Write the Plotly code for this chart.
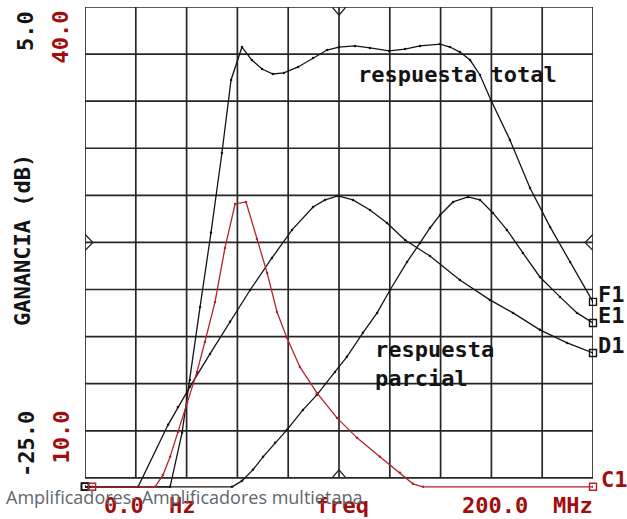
import plotly.graph_objects as go

# ---------------- data (frequency in MHz, gain in dB) ----------------
freq_F1 = [0, 33.5, 38.2, 41.3, 45.3, 49.6, 53.9, 57.5, 61.8, 65.7, 69.7, 74.0, 78.3, 83.9, 89.8,
           95.3, 100.0, 106.3, 112.2, 119.7, 126.0, 131.9, 139.8, 143.7, 147.6, 151.6, 155.5,
           159.8, 167.3, 175.2, 183.1, 191.0, 200.0]
gain_F1 = [-25.57, -25.57, -22.13, -18.76, -14.11, -9.39, -4.30, 0.35, 2.45, 1.62, 1.05, 0.73, 0.80,
           1.18, 1.75, 2.26, 2.45, 2.52, 2.39, 2.20, 2.32, 2.52, 2.64, 2.45, 2.13, 1.62, 0.67,
           -0.92, -3.47, -6.53, -9.01, -11.24, -13.79]

freq_E1 = [0, 57.9, 61.8, 66.1, 70.1, 74.8, 79.5, 85.8, 91.3, 98.4, 103.1, 109.4, 115.0, 120.1,
           126.8, 131.9, 135.8, 139.8, 144.9, 150.8, 155.5, 160.6, 166.1, 172.4, 179.1, 187.0,
           193.7, 200.0]
gain_E1 = [-25.57, -25.57, -25.19, -24.49, -23.66, -22.77, -21.94, -20.67, -19.71, -18.25, -17.29,
           -15.76, -14.49, -13.03, -11.24, -10.03, -9.08, -8.25, -7.42, -7.10, -7.29, -8.12,
           -9.20, -10.67, -12.20, -13.47, -14.49, -15.13]

freq_D1 = [0, 20.9, 32.7, 36.6, 41.3, 49.2, 57.1, 65.0, 73.6, 81.5, 89.8, 94.5, 99.6, 105.5,
           112.2, 118.9, 126.0, 135.8, 147.6, 159.4, 168.5, 179.1, 189.8, 200.0]
gain_D1 = [-25.57, -25.57, -21.62, -20.48, -19.20, -17.10, -15.06, -13.03, -10.99, -9.20, -7.74,
           -7.29, -7.04, -7.29, -7.93, -8.76, -9.84, -10.86, -12.39, -13.66, -14.49, -15.57,
           -16.40, -17.04]

# red trace uses the right-hand (red) scale
freq_C1 = [2.8, 27.6, 30.7, 33.5, 36.6, 40.2, 44.1, 47.2, 51.2, 55.1, 59.1, 63.4, 67.7, 71.7,
           75.6, 79.5, 84.6, 91.3, 99.2, 107.1, 116.1, 124.0, 129.1, 133.1, 200.0]
gain_C1 = [9.43, 9.43, 10.19, 11.34, 12.93, 14.78, 16.75, 18.66, 21.21, 24.65, 27.45, 27.58,
           25.22, 23.06, 20.57, 18.92, 17.07, 15.41, 13.82, 12.55, 11.34, 10.32, 9.62, 9.43, 9.43]

x_ticks = [0, 20, 40, 60, 80, 100, 120, 140, 160, 180, 200]
y_ticks = [-25, -22, -19, -16, -13, -10, -7, -4, -1, 2, 5]

BLACK = "#141414"
RED = "#b3232a"
RED_TXT = "#a10d0d"
GRID = "#262626"
MONO = "DejaVu Sans Mono"

W, H = 627, 519
ML, MR, MT, MB = 85, 34, 7, 27
PW, PH = W - ML - MR, H - MT - MB


def px_x(p):
    return (p - ML) / PW


def px_y(p):
    return (H - MB - p) / PH


fig = go.Figure()

for fx, gy, name in [(freq_D1, gain_D1, "D1"), (freq_E1, gain_E1, "E1"), (freq_F1, gain_F1, "F1")]:
    fig.add_trace(go.Scatter(x=fx, y=gy, mode="lines+markers", name=name,
                             line=dict(color=BLACK, width=1.3),
                             marker=dict(size=2.5, color=BLACK)))
    fig.add_trace(go.Scatter(x=[fx[0], fx[-1]], y=[gy[0], gy[-1]], mode="markers",
                             cliponaxis=False,
                             marker=dict(symbol="square-open", size=7, color=BLACK,
                                         line=dict(width=1.4, color=BLACK)),
                             showlegend=False))

fig.add_trace(go.Scatter(x=freq_C1, y=gain_C1, mode="lines+markers", name="C1", yaxis="y2",
                         line=dict(color=RED, width=1.3), marker=dict(size=2.5, color=RED)))
fig.add_trace(go.Scatter(x=[freq_C1[0], freq_C1[-1]], y=[gain_C1[0], gain_C1[-1]], mode="markers",
                         yaxis="y2", cliponaxis=False,
                         marker=dict(symbol="square-open", size=7, color=RED,
                                     line=dict(width=1.4, color=RED)),
                         showlegend=False))

shapes = []
for xv in x_ticks:
    shapes.append(dict(type="line", xref="x", yref="y", x0=xv, x1=xv, y0=y_ticks[0], y1=y_ticks[-1],
                       line=dict(color=GRID, width=1.7), layer="below"))
for yv in y_ticks:
    shapes.append(dict(type="line", xref="x", yref="y", x0=x_ticks[0], x1=x_ticks[-1], y0=yv, y1=yv,
                       line=dict(color=GRID, width=1.7), layer="below"))

xc = x_ticks[5]
yc = y_ticks[5]
dx = 2.7   # MHz
dy = 0.52  # dB
shapes += [
    dict(type="path", xref="x", yref="y",
         path=f"M {xc-dx},{y_ticks[-1]} L {xc},{y_ticks[-1]-dy} L {xc+dx},{y_ticks[-1]}",
         line=dict(color=GRID, width=1.3)),
    dict(type="path", xref="x", yref="y",
         path=f"M {xc-dx},{y_ticks[0]} L {xc},{y_ticks[0]+dy} L {xc+dx},{y_ticks[0]}",
         line=dict(color=GRID, width=1.3)),
    dict(type="path", xref="x", yref="y",
         path=f"M {x_ticks[0]},{yc+dy} L {x_ticks[0]+3.1},{yc} L {x_ticks[0]},{yc-dy}",
         line=dict(color=GRID, width=1.3)),
    dict(type="path", xref="x", yref="y",
         path=f"M {x_ticks[-1]},{yc+dy} L {x_ticks[-1]-3.1},{yc} L {x_ticks[-1]},{yc-dy}",
         line=dict(color=GRID, width=1.3)),
]

FS = 22
ann = []


def txt(text, x, y, color=BLACK, xa="center", ya="middle", angle=0, size=FS, align="left",
        family=MONO):
    ann.append(dict(text=text, x=x, y=y, xref="paper", yref="paper", xanchor=xa, yanchor=ya,
                    textangle=angle, showarrow=False, align=align,
                    font=dict(family=family, size=size, color=color, weight="bold"
                              if family == MONO else "normal")))


# axis labels (left)
txt("GANANCIA (dB)", px_x(23), px_y(240), angle=-90)
txt("5.0", px_x(26), px_y(9), ya="top", angle=-90)
txt("40.0", px_x(60), px_y(9), ya="top", angle=-90, color=RED_TXT)
txt("-25.0", px_x(26), px_y(409), ya="top", angle=-90)
txt("10.0", px_x(61), px_y(409), ya="top", angle=-90, color=RED_TXT)

# bottom labels
for t, cx in [("0.0", 124), ("Hz", 182), ("freq", 342), ("200.0", 495), ("MHz", 573)]:
    txt(t, px_x(cx), px_y(506), color=RED_TXT)

# curve labels
txt("respuesta total", px_x(356), px_y(75), xa="left")
txt("respuesta<br>parcial", px_x(373), px_y(364), xa="left")

# end labels tied to the end points
for fx, gy, name in [(freq_F1, gain_F1, "F1"), (freq_E1, gain_E1, "E1"), (freq_D1, gain_D1, "D1")]:
    ann.append(dict(text=name, x=fx[-1], y=gy[-1], xref="x", yref="y", xanchor="left",
                    yanchor="middle", xshift=3, yshift=7, showarrow=False,
                    font=dict(family=MONO, size=FS, color=BLACK, weight="bold")))
ann.append(dict(text="C1", x=freq_C1[-1], y=gain_C1[-1], xref="x", yref="y2", xanchor="left",
                yanchor="middle", xshift=6, yshift=7, showarrow=False,
                font=dict(family=MONO, size=FS, color=RED_TXT, weight="bold")))

# caption overlay
ann.append(dict(text="Amplificadores- Amplificadores multietapa", x=px_x(4), y=px_y(497),
                xref="paper", yref="paper", xanchor="left", yanchor="middle", showarrow=False,
                font=dict(family="Open Sans", size=18, color="#5d676c")))

fig.update_layout(
    width=W, height=H,
    margin=dict(l=ML, r=MR, t=MT, b=MB),
    paper_bgcolor="white", plot_bgcolor="white",
    showlegend=False,
    xaxis=dict(range=[0, 200], showgrid=False, zeroline=False, showticklabels=False,
               ticks="", showline=False),
    yaxis=dict(range=[-25.9, 5], showgrid=False, zeroline=False, showticklabels=False,
               ticks="", showline=False),
    yaxis2=dict(range=[9.1, 40], overlaying="y", side="right", visible=False),
    shapes=shapes,
    annotations=ann,
)

fig.write_html("out.html")
